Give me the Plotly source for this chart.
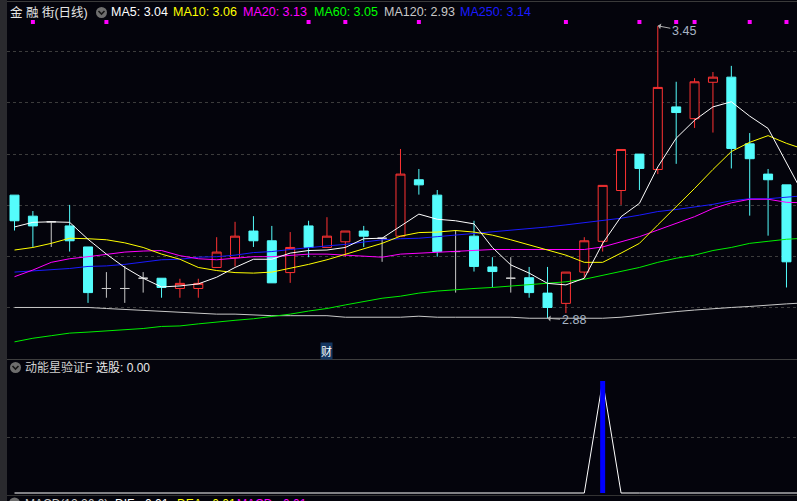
import plotly.graph_objects as go

# ---------------- data ----------------
open_ = [3.120, 3.079, 3.068, 3.060, 3.019, 2.938, 2.938, 2.958, 2.958, 2.938,
         2.938, 2.979, 2.998, 3.050, 3.031, 2.969, 3.060, 3.018, 3.029, 3.050,
         3.036, 3.040, 3.150, 3.120, 3.010, 3.040, 2.980, 2.958, 2.959, 2.929,
         2.909, 2.970, 3.030, 3.129, 3.200, 3.170, 3.292, 3.269, 3.340, 3.350,
         3.220, 3.161, 3.140]
high = [3.120, 3.089, 3.068, 3.101, 3.019, 2.970, 2.982, 2.970, 2.958, 2.957,
        2.957, 3.038, 3.068, 3.079, 3.060, 3.048, 3.070, 3.077, 3.050, 3.060,
        3.036, 3.210, 3.171, 3.130, 3.052, 3.070, 2.999, 2.999, 2.980, 2.980,
        2.970, 3.038, 3.139, 3.209, 3.200, 3.450, 3.341, 3.348, 3.360, 3.372,
        3.241, 3.171, 3.140]
low = [3.051, 3.019, 3.019, 3.010, 2.910, 2.920, 2.910, 2.930, 2.920, 2.920,
       2.920, 2.979, 2.981, 3.019, 2.949, 2.949, 2.999, 3.018, 3.000, 3.019,
       2.990, 3.040, 3.121, 3.000, 2.930, 2.971, 2.940, 2.930, 2.920, 2.880,
       2.890, 2.958, 3.010, 3.101, 3.130, 3.161, 3.181, 3.251, 3.242, 3.172,
       3.080, 3.041, 2.940]
close = [3.070, 3.060, 3.068, 3.031, 2.930, 2.938, 2.938, 2.958, 2.940, 2.948,
         2.948, 3.009, 3.040, 3.031, 2.949, 3.018, 3.018, 3.040, 3.050, 3.040,
         3.036, 3.161, 3.140, 3.010, 3.010, 2.981, 2.971, 2.958, 2.930, 2.901,
         2.970, 3.031, 3.139, 3.209, 3.172, 3.330, 3.281, 3.341, 3.350, 3.211,
         3.191, 3.150, 2.990]

# moving averages (44 points: the last one lies just past the right edge)
ma5 = [3.058, 3.067, 3.068, 3.067, 3.034, 3.005, 2.979, 2.958, 2.941, 2.943,
       2.947, 2.960, 2.979, 2.995, 2.995, 3.007, 3.012, 3.013, 3.018, 3.035,
       3.036, 3.060, 3.083, 3.073, 3.070, 3.064, 3.018, 2.984, 2.968, 2.948,
       2.945, 2.958, 3.026, 3.078, 3.104, 3.175, 3.231, 3.266, 3.292, 3.302,
       3.274, 3.250, 3.183, 3.116]
ma10 = [3.013, 3.018, 3.026, 3.036, 3.035, 3.033, 3.027, 3.018, 3.005, 2.995,
        2.979, 2.973, 2.969, 2.968, 2.970, 2.977, 2.985, 2.994, 3.005, 3.016,
        3.026, 3.040, 3.047, 3.048, 3.051, 3.048, 3.042, 3.033, 3.023, 3.013,
        3.003, 2.989, 2.989, 3.007, 3.026, 3.062, 3.097, 3.133, 3.170, 3.205,
        3.223, 3.236, 3.221, 3.209]
ma20 = [2.961, 2.974, 2.989, 2.996, 3.000, 3.005, 3.009, 3.011, 3.012, 3.002,
        2.996, 2.994, 2.997, 3.000, 3.000, 3.003, 3.005, 3.005, 3.003, 3.000,
        2.999, 3.005, 3.007, 3.008, 3.010, 3.013, 3.014, 3.014, 3.014, 3.013,
        3.013, 3.014, 3.019, 3.029, 3.039, 3.052, 3.065, 3.078, 3.094, 3.105,
        3.112, 3.112, 3.106, 3.105]
ma60 = [2.834, 2.841, 2.846, 2.851, 2.853, 2.855, 2.858, 2.860, 2.864, 2.865,
        2.869, 2.873, 2.876, 2.879, 2.883, 2.888, 2.894, 2.899, 2.906, 2.912,
        2.919, 2.923, 2.929, 2.933, 2.936, 2.938, 2.940, 2.943, 2.945, 2.948,
        2.951, 2.956, 2.964, 2.971, 2.979, 2.989, 2.997, 3.003, 3.012, 3.018,
        3.026, 3.030, 3.034, 3.036]
ma120 = [2.901, 2.901, 2.901, 2.901, 2.901, 2.899, 2.897, 2.896, 2.893, 2.891,
         2.889, 2.888, 2.888, 2.886, 2.885, 2.885, 2.885, 2.885, 2.882, 2.882,
         2.882, 2.882, 2.884, 2.882, 2.882, 2.882, 2.882, 2.882, 2.880, 2.880,
         2.880, 2.880, 2.880, 2.882, 2.886, 2.890, 2.893, 2.896, 2.899, 2.901,
         2.903, 2.906, 2.908, 2.910]
ma250 = [2.970, 2.972, 2.974, 2.977, 2.981, 2.982, 2.985, 2.989, 2.994, 2.995,
         2.999, 3.000, 3.003, 3.008, 3.010, 3.014, 3.018, 3.021, 3.024, 3.029,
         3.033, 3.035, 3.036, 3.039, 3.042, 3.046, 3.049, 3.052, 3.055, 3.058,
         3.062, 3.066, 3.070, 3.075, 3.081, 3.088, 3.092, 3.097, 3.102, 3.109,
         3.113, 3.113, 3.116, 3.119]

# signal marks shown as small magenta squares along the top
signal_days = [1, 5, 16, 18, 22, 30, 34, 36, 37, 40, 42]

# "动能星验证F" indicator (line and 选股 bar)
dnx_line = [0, 0, 0, 0, 0, 0, 0, 0, 0, 0, 0, 0, 0, 0, 0, 0, 0, 0, 0, 0, 0, 0,
            0, 0, 0, 0, 0, 0, 0, 0, 0, 0, 1, 0, 0, 0, 0, 0, 0, 0, 0, 0, 0, 0]
xuangu = [0, 0, 0, 0, 0, 0, 0, 0, 0, 0, 0, 0, 0, 0, 0, 0, 0, 0, 0, 0, 0, 0,
          0, 0, 0, 0, 0, 0, 0, 0, 0, 0, 1, 0, 0, 0, 0, 0, 0, 0, 0, 0, 0]

legend_items = [("MA5: 3.04", "#ffffff"), ("MA10: 3.06", "#ffff00"),
                ("MA20: 3.13", "#ff00ff"), ("MA60: 3.05", "#00ff00"),
                ("MA120: 2.93", "#c8c8c8"), ("MA250: 3.14", "#1a1aff")]
high_label, low_label = "3.45", "2.88"

# ---------------- styling / layout ----------------
W, H = 797, 501
BG = "#04040c"
RED = "#ff3333"
CYAN = "#54fcfc"
DOJI = "#c8c8c8"
GRID = "#3c3c3c"
FONT = "Liberation Sans, Arial, Noto Sans CJK SC, sans-serif"


def px(x):
    return x / W


def py(y):
    return 1 - y / H


n = len(close)
days = list(range(n))
ma_days = list(range(len(ma5)))

fig = go.Figure()

# candles (regular) and doji crosses
reg = [i for i in days if close[i] != open_[i]]
doj = [i for i in days if close[i] == open_[i]]

fig.add_trace(go.Candlestick(
    x=reg, open=[open_[i] for i in reg], high=[high[i] for i in reg],
    low=[low[i] for i in reg], close=[close[i] for i in reg],
    increasing=dict(line=dict(color=RED, width=1), fillcolor=BG),
    decreasing=dict(line=dict(color=CYAN, width=1), fillcolor=CYAN),
    whiskerwidth=0, hoverinfo="skip", showlegend=False, xaxis="x", yaxis="y"))
fig.add_trace(go.Candlestick(
    x=doj, open=[open_[i] for i in doj], high=[high[i] for i in doj],
    low=[low[i] for i in doj], close=[close[i] for i in doj],
    increasing=dict(line=dict(color=DOJI, width=1), fillcolor=DOJI),
    decreasing=dict(line=dict(color=DOJI, width=1), fillcolor=DOJI),
    whiskerwidth=0, hoverinfo="skip", showlegend=False, xaxis="x", yaxis="y"))

for vals, col in [(ma120, "#c8c8c8"), (ma60, "#00ee00"), (ma250, "#1a1aff"),
                  (ma20, "#ff00ff"), (ma10, "#ffff00"), (ma5, "#ffffff")]:
    fig.add_trace(go.Scatter(x=ma_days, y=vals, mode="lines",
                             line=dict(color=col, width=1), hoverinfo="skip",
                             showlegend=False, xaxis="x", yaxis="y"))

DOT_LEVEL = 3.4575
fig.add_trace(go.Scatter(x=signal_days, y=[DOT_LEVEL] * len(signal_days),
                         mode="markers",
                         marker=dict(symbol="square", size=4, color="#ff00ff",
                                     line=dict(width=0)),
                         hoverinfo="skip", showlegend=False, xaxis="x", yaxis="y"))

# lower indicator panel
fig.add_trace(go.Scatter(x=ma_days, y=dnx_line, mode="lines",
                         line=dict(color="#ffffff", width=1), hoverinfo="skip",
                         showlegend=False, xaxis="x2", yaxis="y2"))
bx, by = [], []
for i, v in enumerate(xuangu):
    if v > 0:
        bx += [i, i, None]
        by += [0, v, None]
fig.add_trace(go.Scatter(x=bx, y=by, mode="lines",
                         line=dict(color="#0000ff", width=5), hoverinfo="skip",
                         showlegend=False, xaxis="x2", yaxis="y2"))

XR = [-0.408, 42.573]
fig.update_layout(
    width=W, height=H, margin=dict(l=0, r=0, t=0, b=0),
    paper_bgcolor=BG, plot_bgcolor=BG, showlegend=False,
    xaxis=dict(domain=[px(7), 1], range=XR, showgrid=False, zeroline=False,
               showticklabels=False, ticks="", rangeslider=dict(visible=False),
               anchor="y", fixedrange=True),
    yaxis=dict(domain=[py(358), py(4)], range=[2.8025, 3.4926],
               tickvals=[2.9, 3.0, 3.1, 3.2, 3.3, 3.4], showticklabels=False,
               showgrid=True, gridcolor=GRID, griddash="dot", gridwidth=1,
               zeroline=False, anchor="x"),
    xaxis2=dict(domain=[px(7), 1], range=XR, showgrid=False, zeroline=False,
                showticklabels=False, ticks="", anchor="y2",
                rangeslider=dict(visible=False)),
    yaxis2=dict(domain=[py(497), py(361)], range=[-0.0357, 1.1786],
                tickvals=[0.5], showticklabels=False, showgrid=True,
                gridcolor=GRID, griddash="dot", zeroline=False, anchor="x2"),
)

shapes = [
    dict(type="rect", xref="paper", yref="paper", x0=0, x1=px(7), y0=0, y1=1,
         fillcolor="#2a2a2e", line=dict(width=0), layer="above"),
    dict(type="line", xref="paper", yref="paper", x0=px(7), x1=1,
         y0=py(1.5), y1=py(1.5), line=dict(color="#3a3a3a", width=1)),
    dict(type="line", xref="paper", yref="paper", x0=px(7), x1=1,
         y0=py(359.5), y1=py(359.5), line=dict(color="#3e3e3e", width=1)),
    dict(type="line", xref="paper", yref="paper", x0=px(7), x1=1,
         y0=py(495.5), y1=py(495.5), line=dict(color="#333333", width=1)),
]


def icon(cx, cy):
    shapes.append(dict(type="circle", xref="paper", yref="paper",
                       x0=px(cx - 5.5), x1=px(cx + 5.5), y0=py(cy + 5.5),
                       y1=py(cy - 5.5), fillcolor="#6e6e6e", line=dict(width=0)))
    path = "M {},{} L {},{} L {},{}".format(px(cx - 3), py(cy - 1.5), px(cx),
                                            py(cy + 1.5), px(cx + 3), py(cy - 1.5))
    shapes.append(dict(type="path", xref="paper", yref="paper", path=path,
                       line=dict(color="#151515", width=1.6)))


icon(101.5, 12.5)
icon(15.5, 367.5)
icon(14.5, 503)

annotations = []


def label(x, y, text, color, size=12.5):
    annotations.append(dict(xref="paper", yref="paper", x=px(x - 2), y=py(y),
                            xanchor="left", yanchor="middle", text=text,
                            showarrow=False, font=dict(family=FONT, size=size,
                                                       color=color)))


label(10, 12.5, "金 融 街(日线)", "#e6e6e6")
for (txt, col), x0 in zip(legend_items, [110.5, 173, 242.5, 313.5, 383.5, 460]):
    label(x0, 12.5, txt, col)

label(25, 367.5, "动能星验证F", "#d0d0d0", 12)
label(96, 367.5, "选股: 0.00", "#e8e8e8", 12)

label(25, 504, "MACD(12,26,9)", "#c8c8c8", 12)
label(115, 504, "DIF: -0.01", "#ffffff", 12)
label(177, 504, "DEA: -0.01", "#ffff00", 12)
label(237, 504, "MACD: -0.01", "#ff00ff", 12)

# high / low price labels
i_hi = high.index(max(high))
i_lo = low.index(min(low))
annotations.append(dict(x=i_hi, y=high[i_hi], xref="x", yref="y", text=high_label,
                        showarrow=True, arrowhead=1, arrowsize=1, arrowwidth=1,
                        arrowcolor="#b0b0b0", ax=26, ay=5, standoff=0,
                        font=dict(family=FONT, size=12.5, color="#a8b4c4")))
annotations.append(dict(x=i_lo, y=low[i_lo], xref="x", yref="y", text=low_label,
                        showarrow=True, arrowhead=1, arrowsize=1, arrowwidth=1,
                        arrowcolor="#b0b0b0", ax=26, ay=2, standoff=0,
                        font=dict(family=FONT, size=12.5, color="#a8b4c4")))

# "财" marker
annotations.append(dict(x=17, y=py(351), xref="x", yref="paper", text="财",
                        yanchor="middle", xanchor="center",
                        showarrow=False, bgcolor="#143660", borderpad=0,
                        font=dict(family="Noto Sans CJK SC", size=11,
                                  color="#ffffff")))

fig.update_layout(shapes=shapes, annotations=annotations)
fig.write_html("out.html", config={"displayModeBar": False},
               post_script="document.body.style.margin='0';"
                           "document.body.style.overflow='hidden';"
                           "document.body.style.background='" + BG + "';")
